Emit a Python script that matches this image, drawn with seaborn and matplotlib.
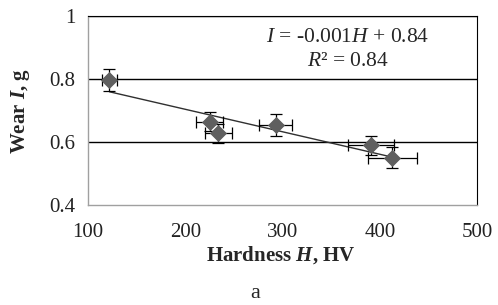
import matplotlib
matplotlib.use('Agg')
import matplotlib.pyplot as plt
import numpy as np
import pandas as pd
import seaborn as sns

# data
hardness = [122, 225, 234, 293, 391, 413]
wear = [0.797, 0.665, 0.627, 0.654, 0.589, 0.550]
hardness_err = [8, 14, 14, 17, 24, 25]
wear_err = [0.034, 0.030, 0.030, 0.034, 0.030, 0.033]

df = pd.DataFrame({'H': hardness, 'I': wear})

sns.set_style('white')
plt.rcParams['font.family'] = ['Liberation Serif', 'DejaVu Serif']
plt.rcParams['mathtext.fontset'] = 'custom'
plt.rcParams['mathtext.rm'] = 'Liberation Serif'
plt.rcParams['mathtext.it'] = 'Liberation Serif:italic'
plt.rcParams['mathtext.bf'] = 'Liberation Serif:bold'
plt.rcParams['mathtext.bfit'] = 'Liberation Serif:bold:italic'

fig = plt.figure(figsize=(4.98, 3.05), dpi=100)
ax = fig.add_axes([88 / 498, 1 - 205 / 305, 389 / 498, 189 / 305])

# trend line
sns.regplot(data=df, x='H', y='I', ax=ax, scatter=False, ci=None,
            color='#303030', line_kws={'lw': 1.0})

ax.errorbar(hardness, wear, xerr=hardness_err, yerr=wear_err, fmt='none',
            ecolor='black', elinewidth=0.9, capsize=4.5, capthick=0.9, zorder=3)
sns.scatterplot(data=df, x='H', y='I', ax=ax, marker='D', s=65,
                color='#5f5f5f', edgecolor='#5f5f5f', zorder=4)

ax.set_xlim(100, 500)
ax.set_ylim(0.4, 1.0)
ax.set_xticks([100, 200, 300, 400, 500])
ax.set_yticks([0.4, 0.6, 0.8, 1.0])
ax.set_yticklabels(['0.4', '0.6', '0.8', '1'])
for yv in [0.6, 0.8, 1.0]:
    ax.axhline(yv, color='black', lw=1.0, zorder=1)

for s in ['left', 'bottom']:
    ax.spines[s].set_color('#a0a0a0')
    ax.spines[s].set_linewidth(1.0)
ax.spines['right'].set_color('black')
ax.spines['top'].set_color('black')
ax.tick_params(axis='both', direction='out', length=5, width=1,
               color='#a0a0a0', labelsize=15, labelcolor='#222222')
ax.tick_params(axis='y', pad=4)
ax.tick_params(axis='x', pad=8)

ax.set_xlabel('')
ax.set_ylabel('')
fig.text(281 / 498, 1 - 255 / 305, r'Hardness $\mathbfit{H}$, HV', fontsize=15,
         fontweight='bold', ha='center', va='center')
fig.text(21 / 498, 1 - 111 / 305, r'Wear $\mathbfit{I}$, g', fontsize=15,
         fontweight='bold', ha='center', va='center', rotation=90)

ax.text(0.668, 0.884, r'$I$ = -0.001$H$ + 0.84', transform=ax.transAxes,
        fontsize=15.5, ha='center', va='center')
ax.text(0.668, 0.757, r'$R$² = 0.84', transform=ax.transAxes,
        fontsize=15.5, ha='center', va='center')

fig.text(255 / 498, 1 - 294 / 305, 'a', fontsize=16, ha='center', va='center')

fig.savefig('out.png', dpi=100)
